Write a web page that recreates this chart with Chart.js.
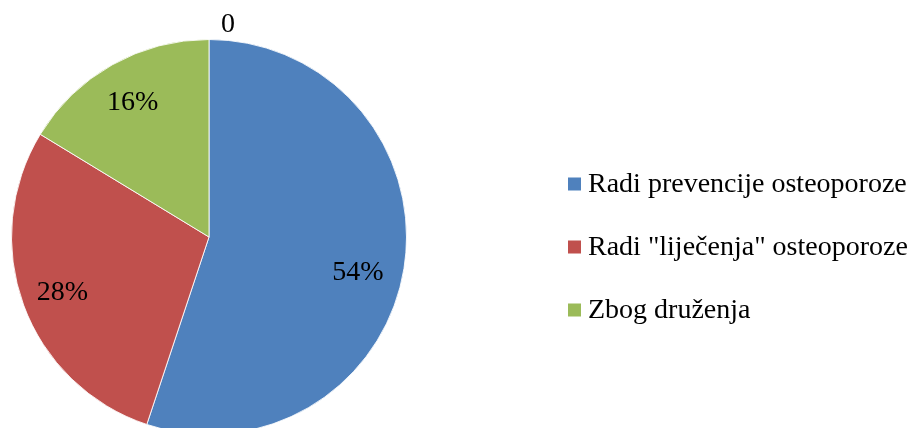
<!DOCTYPE html>
<html>
<head>
<meta charset="utf-8">
<script src="https://cdn.jsdelivr.net/npm/chart.js@4/dist/chart.umd.min.js"></script>
<style>
  html, body { margin: 0; padding: 0; background: #fff; overflow: hidden; }
  canvas { display: block; }
</style>
</head>
<body>
<canvas id="pie" width="914" height="460"></canvas>
<script>
const categories = ['Radi prevencije osteoporoze', 'Radi "liječenja" osteoporoze', 'Zbog druženja', ''];
const values = [55.1, 28.6, 16.3, 0];
const valueLabels = ['54%', '28%', '16%', '0'];
const colors = ['#4F81BD', '#C0504D', '#9BBB59', '#8064A2'];

const FONT = '"Liberation Serif", "Times New Roman", serif';

// Data labels drawn inside each slice (zero slice gets its label outside)
const sliceLabels = {
  id: 'sliceLabels',
  afterDatasetsDraw(chart, args, opts) {
    const ctx = chart.ctx;
    const meta = chart.getDatasetMeta(0);
    const nudge = opts.nudge || [];
    ctx.save();
    ctx.fillStyle = '#000';
    ctx.font = '28px ' + FONT;
    meta.data.forEach((arc, i) => {
      const { x, y, startAngle, endAngle, outerRadius } = arc.getProps(['x', 'y', 'startAngle', 'endAngle', 'outerRadius'], true);
      const mid = (startAngle + endAngle) / 2;
      const n = nudge[i] || [0, 0];
      if (values[i] === 0) {
        ctx.textAlign = 'left';
        ctx.textBaseline = 'alphabetic';
        ctx.fillText(valueLabels[i], x + Math.cos(mid) * outerRadius + 12, y + Math.sin(mid) * outerRadius - 8);
      } else {
        const r = outerRadius * 0.79;
        ctx.textAlign = 'center';
        ctx.textBaseline = 'middle';
        ctx.fillText(valueLabels[i], x + Math.cos(mid) * r + n[0], y + Math.sin(mid) * r + 2 + n[1]);
      }
    });
    ctx.restore();
  }
};

// Legend on the right, skipping the empty category
const sideLegend = {
  id: 'sideLegend',
  afterDraw(chart) {
    const ctx = chart.ctx;
    ctx.save();
    ctx.font = '28px ' + FONT;
    ctx.textAlign = 'left';
    ctx.textBaseline = 'middle';
    let y = 184;
    categories.forEach((name, i) => {
      if (!name) return;
      ctx.fillStyle = colors[i];
      ctx.fillRect(568, y - 6.5, 13, 13);
      ctx.fillStyle = '#000';
      ctx.fillText(name, 588, y + 1);
      y += 63;
    });
    ctx.restore();
  }
};

new Chart(document.getElementById('pie'), {
  type: 'pie',
  data: {
    labels: categories,
    datasets: [{
      data: values,
      backgroundColor: colors,
      borderColor: 'rgba(255,255,255,0.85)',
      borderWidth: 1
    }]
  },
  options: {
    responsive: false,
    animation: false,
    devicePixelRatio: 1,
    layout: { padding: { left: 11, top: 39, right: 507, bottom: 25 } },
    plugins: {
      legend: { display: false },
      tooltip: { enabled: false },
      title: { display: false },
      sliceLabels: { nudge: [[-5, 9], [0, 0], [0, 0]] }
    }
  },
  plugins: [sliceLabels, sideLegend]
});
</script>
</body>
</html>
